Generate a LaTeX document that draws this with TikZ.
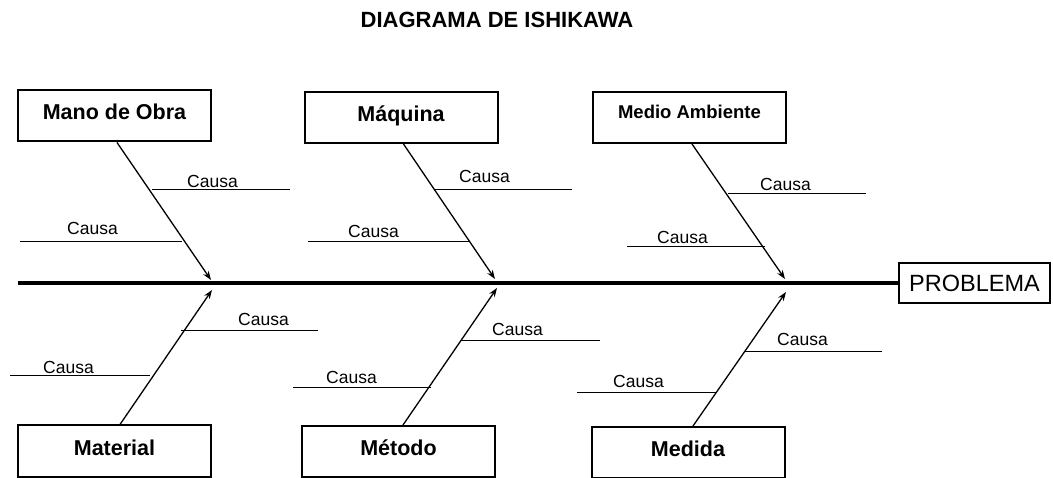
\documentclass[tikz,border=0pt]{standalone}
\usepackage{fontspec}
\setmainfont{Liberation Sans}
\usetikzlibrary{positioning,arrows.meta,calc}

\begin{document}
\begin{tikzpicture}[x=1pt,y=-1pt,
  box/.style={draw, line width=2pt, minimum width=193pt, minimum height=51pt, inner sep=0pt,
    text height=14pt, text depth=6pt, font=\fontsize{21.5}{24}\selectfont\bfseries},
  bone/.style={line width=1.3pt, -{Stealth[length=9pt,width=6.5pt]}},
  rib/.style={line width=1pt},
  cause/.style={anchor=base west, inner sep=0pt, font=\fontsize{17.5}{20}\selectfont}]
\useasboundingbox (0,0) rectangle (1053,478);

\node[anchor=base, font=\fontsize{22}{26}\selectfont\bfseries] (title) at (497,28) {DIAGRAMA DE ISHIKAWA};

% categorias
\node[box] (mano) at (114.5,116) {Mano de Obra};
\node[box] (maquina) at (401,117.5) {Máquina};
\node[box, label={[yshift=5.5pt, font=\fontsize{18.5}{22}\selectfont\bfseries]center:Medio Ambiente}] (medio) at (689.5,117.5) {};
\node[box] (material) at (114.5,451) {Material};
\node[box] (metodo) at (398.5,451.5) {Método};
\node[box] (medida) at (688,452.5) {Medida};

% efecto
\node[draw, line width=2pt, minimum width=151pt, minimum height=40pt, inner sep=0pt,
  font=\fontsize{23.5}{26}\selectfont] (problema) at (974.5,283) {PROBLEMA};
\coordinate (cola) at (18,283);
\draw[line width=3.5pt] (cola) -- (problema.west);

% espinas
\coordinate (t1) at (211,280);
\coordinate (t2) at (495,279);
\coordinate (t3) at (785,279);
\coordinate (b1) at (212,290);
\coordinate (b2) at (497,288);
\coordinate (b3) at (786,292);
\draw[bone] ([xshift=2.5pt]mano.south) -- (t1);
\draw[bone] ([xshift=2.5pt]maquina.south) -- (t2);
\draw[bone] ([xshift=2.5pt]medio.south) -- (t3);
\draw[bone] ([xshift=5.5pt]material.north) -- (b1);
\draw[bone] ([xshift=4.5pt]metodo.north) -- (b2);
\draw[bone] ([xshift=5pt]medida.north) -- (b3);

% causas
\foreach \xa/\xb/\yl/\xt/\yt [count=\i] in {152/290/190/187/188, 20/182/242/67/235,
    435/572/190/459/183, 308/470/242/348/238, 728/866/194/760/191, 627/765/247/657/244,
    181/318/331/238/326, 10/150/376/43/374, 462/600/341/492/336, 293/431/388/326/384,
    745/882/352/777/346, 577/717/393/613/388} {
  \coordinate (ra\i) at (\xa,\yl);
  \coordinate (rb\i) at (\xb,\yl);
  \draw[rib] (ra\i) -- (rb\i);
  \node[cause] (c\i) at (\xt,\yt) {Causa};
}
\end{tikzpicture}
\end{document}
